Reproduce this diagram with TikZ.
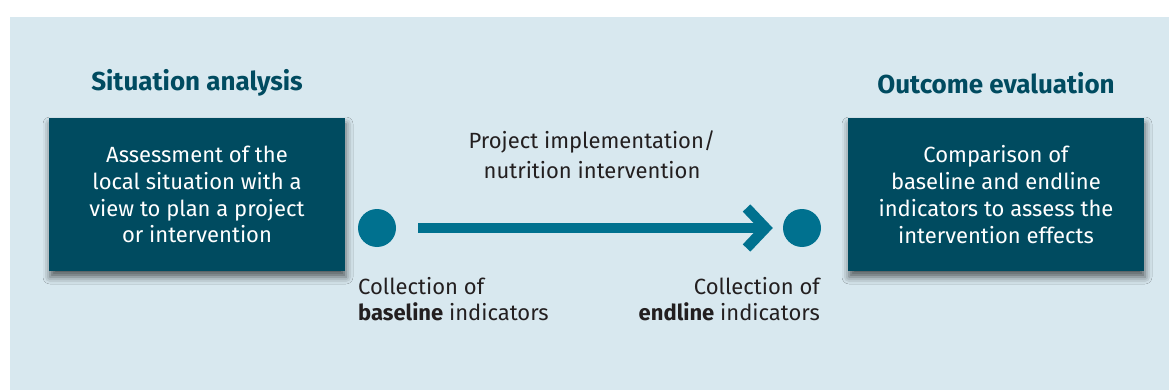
\documentclass[tikz,border=0pt]{standalone}
\usepackage{fontspec}
\setmainfont{Fira Sans}
\usetikzlibrary{arrows.meta,shadows.blur}
\definecolor{panelbg}{HTML}{D8E8EF}
\definecolor{boxfill}{HTML}{004B60}
\definecolor{accent}{HTML}{00718F}
\definecolor{heading}{HTML}{004B60}
\definecolor{bodytext}{HTML}{231F20}
\tikzset{
  phasebox/.style={fill=boxfill, minimum width=296pt, minimum height=153pt,
    text=white, align=center, inner sep=0pt,
    font=\fontsize{22}{26.8}\selectfont,
    blur shadow={shadow xshift=1pt, shadow yshift=-6pt, shadow blur radius=7pt, shadow opacity=60}},
  phasetitle/.style={text=heading, font=\fontsize{26}{30}\selectfont\bfseries},
  milestone/.style={circle, fill=accent, minimum size=38pt, inner sep=0pt},
  caption/.style={text=bodytext, font=\fontsize{22}{26.5}\selectfont, inner sep=0pt},
  flow/.style={draw=accent, line width=10.5pt,
    -{Straight Barb[length=19pt, width=40pt, line width=10.5pt]}, line join=miter}
}
\begin{document}
\begin{tikzpicture}[x=1pt, y=-1pt]
  \useasboundingbox (0,0) rectangle (1169,390);
  % background panel
  \fill[panelbg] (10,17) rectangle (1169,390);

  % phase boxes with headings
  \node[phasebox] (situation) at (197,194.5)
    {Assessment of the\\local situation with a\\view to plan a project\\or intervention};
  \node[phasebox] (outcome) at (996,194.5)
    {Comparison of\\baseline and endline\\indicators to assess the\\intervention effects};
  \node[phasetitle] (situationtitle) at (197,83) {Situation analysis};
  \node[phasetitle] (outcometitle) at (996,83) {Outcome evaluation};

  % measurement points and the intervention arrow
  \node[milestone] (baseline) at (377,228) {};
  \node[milestone] (endline) at (802,228) {};
  \draw[flow, shorten <=22pt, shorten >=10pt] (baseline) -- (endline);

  \node[caption, align=center, font=\fontsize{22}{30}\selectfont] (implementation) at (592,155)
    {Project implementation/\\nutrition intervention};
  \node[caption, align=left, anchor=north west] (baselinecap) at (358,277)
    {Collection of\\\textbf{baseline} indicators};
  \node[caption, align=right, anchor=north east] (endlinecap) at (820,277)
    {Collection of\\\textbf{endline} indicators};
\end{tikzpicture}
\end{document}
